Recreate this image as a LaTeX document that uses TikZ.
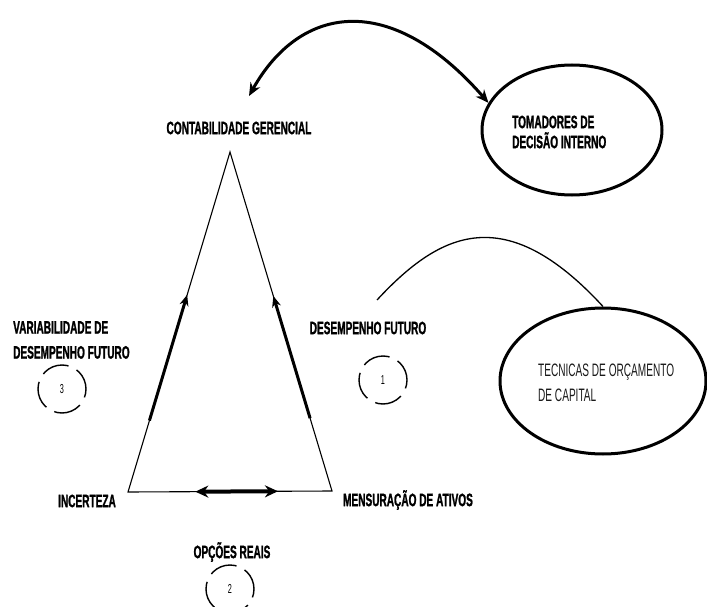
\documentclass[tikz,border=0pt]{standalone}
\usepackage{fontspec}
\setmainfont{Liberation Sans}[FakeStretch=0.56, BoldFeatures={FakeBold=1.2}]
\usetikzlibrary{arrows.meta,shapes.geometric,calc}
\begin{document}
\begin{tikzpicture}[x=1pt,y=-1pt,
  lbl/.style={font=\fontsize{18}{25}\selectfont\bfseries, inner sep=0pt, align=left},
  lbltwo/.style={font=\fontsize{18}{20}\selectfont\bfseries, inner sep=0pt, align=left},
  lbllight/.style={font=\fontsize{18}{25}\selectfont, text=black!90, inner sep=0pt, align=left},
  bigell/.style={ellipse, draw, line width=3pt, inner sep=0pt},
  numcirc/.style={circle, draw, line width=1.4pt, minimum size=48pt, inner sep=0pt,
     dash pattern=on 28pt off 9pt, dash phase=6pt, font=\fontsize{13}{13}\selectfont},
  side/.style={line width=1.1pt},
  thickarr/.style={line width=3pt, -{Stealth[length=11pt,width=9pt]}},
  dblarr/.style={line width=4pt, {Stealth[length=13pt,width=12pt]}-{Stealth[length=13pt,width=12pt]}},
  toparr/.style={line width=3pt, {Stealth[length=13pt,width=11pt]}-{Stealth[length=13pt,width=11pt]}},
  thinarc/.style={line width=1.3pt}
]
\useasboundingbox (0,0) rectangle (707,607);

% triangle corners
\coordinate (P) at (230,152);
\coordinate (A) at (128,492);
\coordinate (B) at (332,491);
\draw[side] (A) -- (P) -- (B) -- cycle;

% thick arrows on the sides
\draw[thickarr] ($(A)!0.21!(P)$) -- ($(A)!0.58!(P)$);
\draw[thickarr] ($(B)!0.215!(P)$) -- ($(B)!0.575!(P)$);
\draw[dblarr] ($(A)!0.33!(B)$) -- ($(A)!0.735!(B)$);

% labels
\node[lbl] (cont) at (239,128) {CONTABILIDADE GERENCIAL};
\node[lbl, anchor=west] (var) at (13,340) {VARIABILIDADE DE\\DESEMPENHO FUTURO};
\node[lbl] (des) at (368,328) {DESEMPENHO FUTURO};
\node[lbl] (inc) at (87,501) {INCERTEZA};
\node[lbl] (men) at (408,500) {MENSURAÇÃO DE ATIVOS};
\node[lbl] (opc) at (232,552) {OPÇÕES REAIS};

% number circles
\node[numcirc] (c3) at (62,389) {3};
\node[numcirc] (c1) at (383,380) {1};
\node[numcirc] (c2) at (230,589) {2};

% ellipses
\node[bigell, minimum width=180pt, minimum height=130pt] (tom) at (572,130) {};
\node[lbltwo, anchor=west] (tomt) at (512,132) {TOMADORES DE\\DECISÃO INTERNO};
\node[bigell, minimum width=206pt, minimum height=146pt] (tec) at (603,381) {};
\node[lbllight, anchor=west] (tect) at (538,383) {TECNICAS DE ORÇAMENTO\\DE CAPITAL};

% top double arrow
\coordinate (tl) at (249,96);
\draw[toparr] (tl) .. controls (300,5) and (390,-10) .. (tom.162);

% thin arc
\coordinate (al) at (377,300);
\draw[thinarc] (al) .. controls (440,232) and (505,200) .. (tec.north);
\end{tikzpicture}
\end{document}
